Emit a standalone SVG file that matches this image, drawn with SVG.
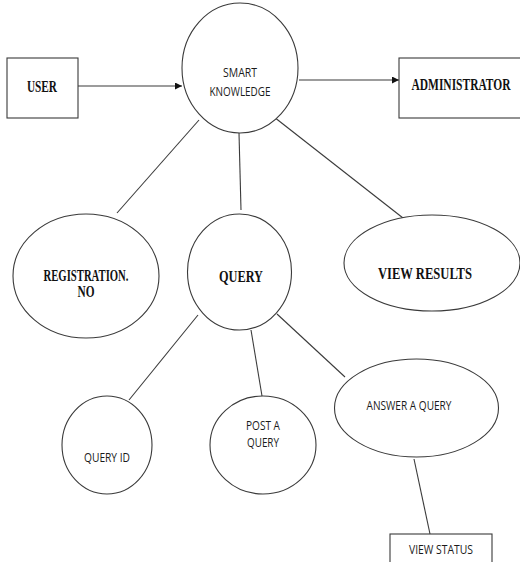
<svg xmlns="http://www.w3.org/2000/svg" width="520" height="562" viewBox="0 0 520 562">
<style>
.s{fill:#fff;stroke:#3a3a3a;stroke-width:1.1}
.c{stroke:#3a3a3a;stroke-width:1.1;fill:none}
.b{font-family:"Liberation Serif",serif;font-weight:bold;font-size:16px;fill:#111;text-anchor:middle}
.n{font-family:"Open Sans","Liberation Sans",sans-serif;font-size:12.5px;fill:#1a1a1a;text-anchor:middle}
</style>
<defs>
<marker id="ah" viewBox="0 0 8 8" refX="8" refY="4" markerWidth="7" markerHeight="7" markerUnits="userSpaceOnUse" orient="auto">
<path d="M0,0 L8,4 L0,8 Z" fill="#111"/>
</marker>
</defs>
<rect width="520" height="562" fill="#fff"/>
<g id="connectors">
<line class="c" x1="78" y1="86" x2="182" y2="86" marker-end="url(#ah)"/>
<line class="c" x1="299" y1="80" x2="399" y2="80" marker-end="url(#ah)"/>
<line class="c" x1="199" y1="120" x2="117" y2="213"/>
<line class="c" x1="239" y1="133" x2="241" y2="210"/>
<line class="c" x1="274" y1="117" x2="403" y2="218"/>
<line class="c" x1="198" y1="315" x2="129" y2="400"/>
<line class="c" x1="251" y1="330" x2="262" y2="396"/>
<line class="c" x1="277" y1="314" x2="345" y2="377"/>
<line class="c" x1="414" y1="459" x2="430" y2="534"/>
</g>
<g id="user">
<rect class="s" x="7" y="58" width="71" height="60"/>
<text class="b" x="42" y="92" textLength="30" lengthAdjust="spacingAndGlyphs">USER</text>
</g>
<g id="smart-knowledge">
<ellipse class="s" cx="240" cy="68" rx="58" ry="65"/>
<text class="n" x="240" y="77" textLength="34" lengthAdjust="spacingAndGlyphs">SMART</text>
<text class="n" x="240" y="96" textLength="61" lengthAdjust="spacingAndGlyphs">KNOWLEDGE</text>
</g>
<g id="administrator">
<rect class="s" x="399" y="58" width="125" height="60"/>
<text class="b" x="461" y="90" textLength="99" lengthAdjust="spacingAndGlyphs">ADMINISTRATOR</text>
</g>
<g id="registration">
<ellipse class="s" cx="86" cy="276" rx="73" ry="62"/>
<text class="b" x="86" y="281" font-size="13.5" textLength="85" lengthAdjust="spacingAndGlyphs">REGISTRATION.</text>
<text class="b" x="86" y="297" font-size="13.5" textLength="17" lengthAdjust="spacingAndGlyphs">NO</text>
</g>
<g id="query">
<ellipse class="s" cx="239.5" cy="272" rx="52" ry="58"/>
<text class="b" x="241" y="282" textLength="44" lengthAdjust="spacingAndGlyphs">QUERY</text>
</g>
<g id="view-results">
<ellipse class="s" cx="432" cy="263" rx="88" ry="48"/>
<text class="b" x="425" y="279" textLength="94" lengthAdjust="spacingAndGlyphs">VIEW RESULTS</text>
</g>
<g id="query-id">
<ellipse class="s" cx="107" cy="445" rx="45" ry="49"/>
<text class="n" x="107" y="462" textLength="46" lengthAdjust="spacingAndGlyphs">QUERY ID</text>
</g>
<g id="post-a-query">
<ellipse class="s" cx="263" cy="445" rx="53" ry="49"/>
<text class="n" x="263" y="430" textLength="34" lengthAdjust="spacingAndGlyphs">POST A</text>
<text class="n" x="263" y="447" textLength="32" lengthAdjust="spacingAndGlyphs">QUERY</text>
</g>
<g id="answer-a-query">
<ellipse class="s" cx="416.5" cy="408" rx="82" ry="49"/>
<text class="n" x="409" y="410" textLength="85" lengthAdjust="spacingAndGlyphs">ANSWER A QUERY</text>
</g>
<g id="view-status">
<rect class="s" x="390" y="534" width="102" height="40"/>
<text class="n" x="441" y="554" textLength="64" lengthAdjust="spacingAndGlyphs">VIEW STATUS</text>
</g>
</svg>
